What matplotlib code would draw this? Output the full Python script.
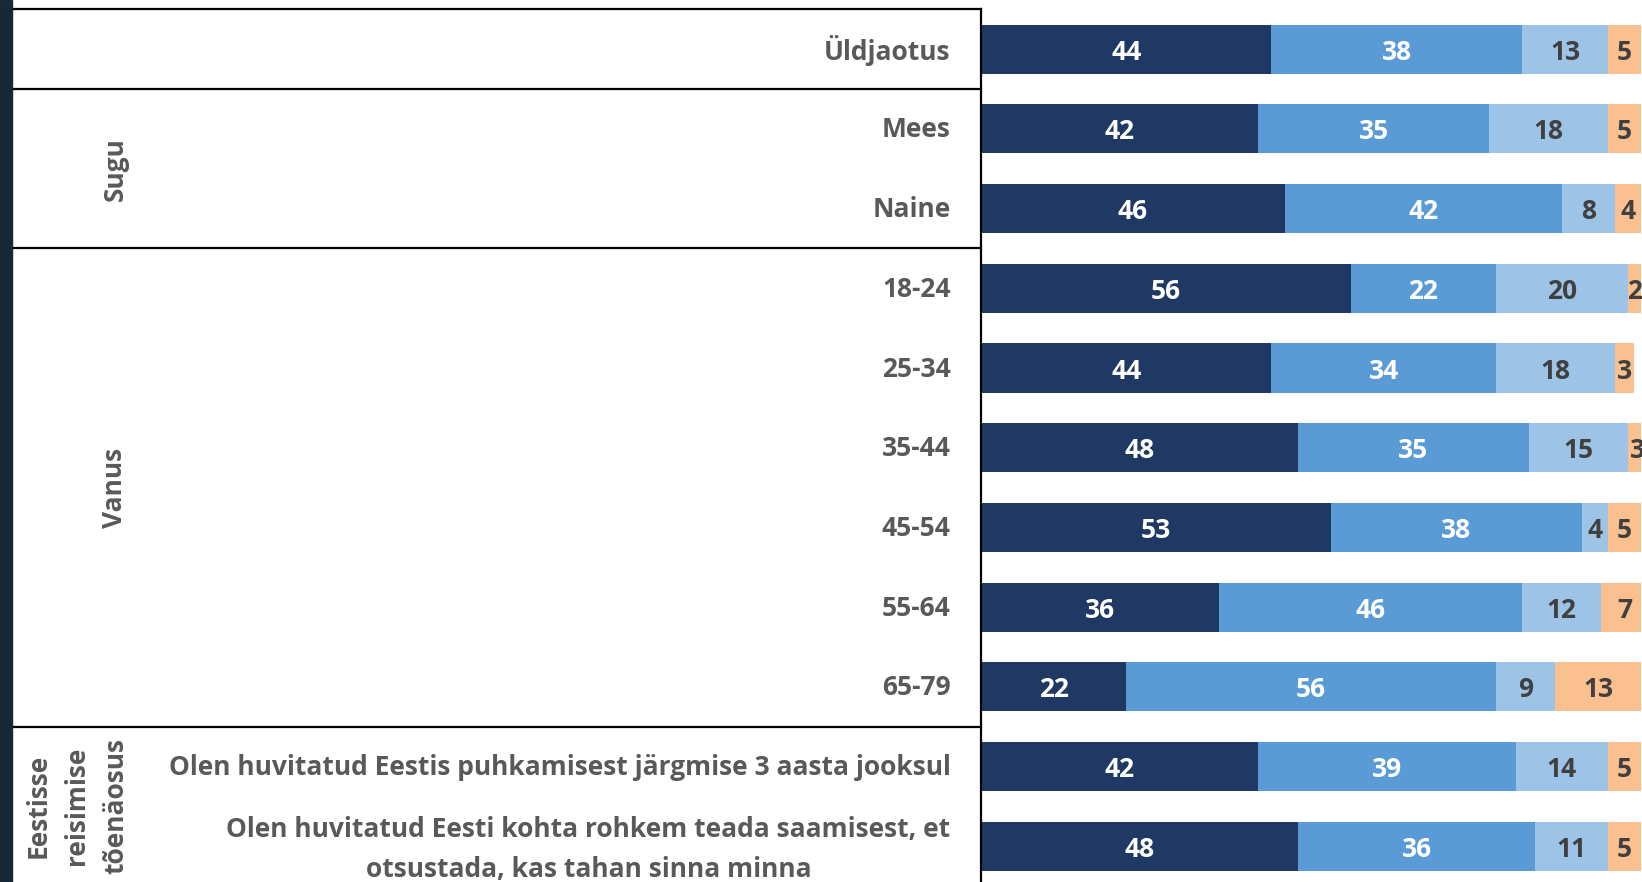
import matplotlib
matplotlib.use("Agg")
import matplotlib.pyplot as plt
from matplotlib.transforms import blended_transform_factory, ScaledTranslation
from matplotlib.lines import Line2D
from matplotlib.patches import Rectangle

plt.rcParams['font.family'] = ['Open Sans', 'DejaVu Sans']

categories = [
    "Üldjaotus", "Mees", "Naine", "18-24", "25-34", "35-44", "45-54", "55-64", "65-79",
    "Olen huvitatud Eestis puhkamisest järgmise 3 aasta jooksul",
    "Olen huvitatud Eesti kohta rohkem teada saamisest, et\notsustada, kas tahan sinna minna",
]
s1 = [44, 42, 46, 56, 44, 48, 53, 36, 22, 42, 48]
s2 = [38, 35, 42, 22, 34, 35, 38, 46, 56, 39, 36]
s3 = [13, 18, 8, 20, 18, 15, 4, 12, 9, 14, 11]
s4 = [5, 5, 4, 2, 3, 3, 5, 7, 13, 5, 5]
series = [s1, s2, s3, s4]
colors = ["#203864", "#5B9BD5", "#9DC3E6", "#FAC090"]
text_colors = ["white", "white", "#404040", "#404040"]

groups = [("Sugu", 1, 2), ("Vanus", 3, 8), ("Eestisse\nreisimise\ntõenäosus", 9, 10)]
group_lines = [-0.5, 0.5, 2.5, 8.5]

W, H = 1642, 882
fig = plt.figure(figsize=(W / 100, H / 100), dpi=100)
fig.patch.set_facecolor("white")

ax_left, ax_right = 981 / W, 1641 / W
ax_top = 1 - 9.4 / H
ax = fig.add_axes([ax_left, 0, ax_right - ax_left, ax_top])
n = len(categories)
ax.set_xlim(0, 100)
ax.set_ylim(10.45, -0.5)

fs = 19
ypos = list(range(n))
left = [0] * n
for vals, col, tcol in zip(series, colors, text_colors):
    ax.barh(ypos, vals, left=left, height=0.615, color=col, edgecolor="none")
    for i, v in enumerate(vals):
        ax.text(left[i] + v / 2, i, str(v), ha="center", va="center_baseline",
                color=tcol, fontsize=fs, fontweight="bold", clip_on=False)
    left = [l + v for l, v in zip(left, vals)]

ax.set_yticks(ypos)
ax.set_yticklabels(categories, fontsize=fs, fontweight="bold", color="#595959",
                   multialignment="center", linespacing=1.6)
ax.tick_params(axis="y", length=0, pad=22)
for lab in ax.get_yticklabels():
    dy = 6 if "\n" in lab.get_text() else 2
    lab.set_transform(lab.get_transform() +
                      ScaledTranslation(0, dy / 100, fig.dpi_scale_trans))
ax.set_xticks([])
for sp in ["top", "right", "bottom"]:
    ax.spines[sp].set_visible(False)
ax.spines["left"].set_linewidth(1.6)
ax.spines["left"].set_color("black")

tr = blended_transform_factory(fig.transFigure, ax.transData)
for yl in group_lines:
    fig.add_artist(Line2D([14 / W, 981 / W], [yl, yl], transform=tr,
                          color="black", linewidth=1.6, clip_on=False))

for label, a, b in groups:
    if "\n" in label:
        xg = 77 / W
    else:
        xg = 115 / W
    fig.text(xg, (a + b) / 2, label, transform=tr, rotation=90, ha="center",
             va="center", fontsize=fs, fontweight="bold", color="#595959",
             multialignment="center", linespacing=1.55)

fig.add_artist(Rectangle((0, 0), 12 / W, 1, transform=fig.transFigure,
                         color="#172837", clip_on=False))

fig.savefig("out.png", dpi=100)
